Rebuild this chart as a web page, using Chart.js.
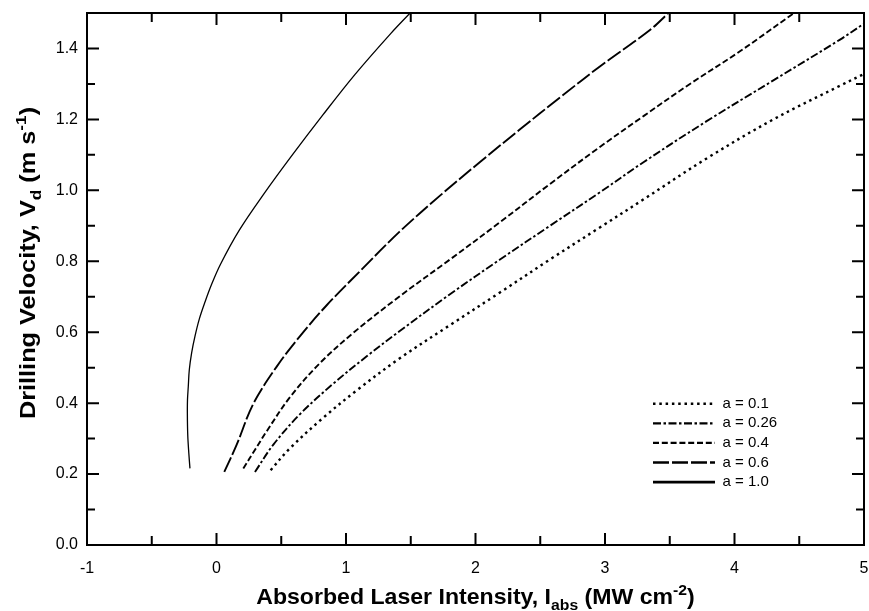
<!DOCTYPE html>
<html>
<head>
<meta charset="utf-8">
<script src="https://cdn.jsdelivr.net/npm/chart.js@4.4.0/dist/chart.umd.min.js"></script>
<style>
html,body{margin:0;padding:0;background:#fff;}
#wrap{width:869px;height:611px;position:relative;}
</style>
</head>
<body>
<div id="wrap"><canvas id="c"></canvas></div>
<script>
// ---- data ----
const seriesLabels = ['a = 0.1', 'a = 0.26', 'a = 0.4', 'a = 0.6', 'a = 1.0'];

const x_a01 = [0.418, 0.568, 0.825, 1.083, 1.410, 1.803, 2.189, 2.575, 2.963, 3.300, 3.785, 4.300, 4.815, 5.000];
const y_a01 = [0.211, 0.273, 0.359, 0.436, 0.525, 0.620, 0.712, 0.805, 0.896, 0.975, 1.090, 1.200, 1.295, 1.328];

const x_a026 = [0.297, 0.439, 0.645, 0.902, 1.160, 1.410, 1.803, 2.189, 2.575, 2.963, 3.300, 3.785, 4.300, 4.815, 5.000];
const y_a026 = [0.206, 0.283, 0.369, 0.455, 0.532, 0.602, 0.707, 0.805, 0.900, 0.995, 1.080, 1.195, 1.310, 1.425, 1.470];

const x_a04 = [0.207, 0.300, 0.388, 0.568, 0.799, 1.056, 1.410, 1.803, 2.189, 2.575, 2.963, 3.300, 3.656, 4.042, 4.460];
const y_a04 = [0.216, 0.270, 0.321, 0.417, 0.513, 0.598, 0.700, 0.805, 0.910, 1.018, 1.123, 1.210, 1.300, 1.392, 1.500];

const x_a06 = [0.060, 0.156, 0.284, 0.465, 0.645, 0.851, 1.108, 1.410, 1.726, 2.035, 2.344, 2.653, 2.963, 3.347, 3.490];
const y_a06 = [0.206, 0.283, 0.398, 0.503, 0.589, 0.676, 0.772, 0.882, 0.985, 1.080, 1.172, 1.262, 1.350, 1.452, 1.500];

const x_a10 = [-0.205, -0.214, -0.222, -0.225, -0.224, -0.218, -0.210, -0.192, -0.166, -0.133, -0.089, -0.040, 0.030, 0.175, 0.370, 0.580, 0.820, 1.070, 1.345, 1.495];
const y_a10 = [0.216, 0.260, 0.310, 0.370, 0.410, 0.446, 0.494, 0.542, 0.589, 0.637, 0.685, 0.733, 0.791, 0.887, 0.992, 1.097, 1.212, 1.327, 1.442, 1.500];

const xTickValues = [-1, 0, 1, 2, 3, 4, 5];
const xTickLabels = ['-1', '0', '1', '2', '3', '4', '5'];
const xMinorValues = [-0.5, 0.5, 1.5, 2.5, 3.5, 4.5];
const yTickValues = [0, 0.2, 0.4, 0.6, 0.8, 1.0, 1.2, 1.4];
const yTickLabels = ['0.0', '0.2', '0.4', '0.6', '0.8', '1.0', '1.2', '1.4'];
const yMinorValues = [0.1, 0.3, 0.5, 0.7, 0.9, 1.1, 1.3];

const xTitleRuns = [['Absorbed Laser Intensity, I', 0], ['abs', -1], [' (MW cm', 0], ['-2', 1], [')', 0]];
const yTitleRuns = [['Drilling Velocity, V', 0], ['d', -1], [' (m s', 0], ['-1', 1], [')', 0]];

// ---- build chart ----
const pts = (xs, ys) => xs.map((x, i) => ({x: x, y: ys[i]}));
const styles = [
  {dash: [2.5, 3.8], width: 2.4, legendWidth: 2.6},
  {dash: [8, 2.5, 2.5, 2.5], width: 1.9, legendWidth: 2.2},
  {dash: [6, 2.8], width: 1.9, legendWidth: 2.2},
  {dash: [16, 3], width: 1.9, legendWidth: 2.4},
  {dash: [], width: 1.3, legendWidth: 2.6}
];
const seriesX = [x_a01, x_a026, x_a04, x_a06, x_a10];
const seriesY = [y_a01, y_a026, y_a04, y_a06, y_a10];

const datasets = seriesLabels.map((lab, i) => ({
  label: lab,
  data: pts(seriesX[i], seriesY[i]),
  borderColor: '#000',
  backgroundColor: '#000',
  borderWidth: styles[i].width,
  borderDash: styles[i].dash,
  pointRadius: 0,
  pointStyle: 'line',
  showLine: true,
  fill: false,
  tension: 0.35
}));

const FONT = "'Liberation Sans', Arial, Helvetica, sans-serif";

function drawRuns(ctx, runs, size, cx, cy, sx) {
  const big = 'bold ' + size + 'px ' + FONT;
  const small = 'bold ' + Math.round(size * 0.68) + 'px ' + FONT;
  let total = 0;
  runs.forEach(r => { ctx.font = r[1] === 0 ? big : small; total += ctx.measureText(r[0]).width; });
  ctx.save();
  ctx.translate(cx, cy);
  ctx.scale(sx, 1);
  let x = -total / 2;
  ctx.textBaseline = 'alphabetic';
  ctx.textAlign = 'left';
  runs.forEach(r => {
    ctx.font = r[1] === 0 ? big : small;
    let dy = 0;
    if (r[1] === -1) dy = size * 0.28;
    if (r[1] === 1) dy = -size * 0.42;
    ctx.fillText(r[0], x, dy);
    x += ctx.measureText(r[0]).width;
  });
  ctx.restore();
}

const framePlugin = {
  id: 'frameTicks',
  afterUpdate(chart) {
    const lg = chart.legend;
    if (lg) {
      lg.left = 648.4; lg.top = 391.6;
      lg.width = 200; lg.height = 200;
      lg.right = lg.left + 200; lg.bottom = lg.top + 200;
    }
  },
  afterDatasetsDraw(chart) {
    const {ctx, chartArea: a, scales} = chart;
    const xs = scales.x, ys = scales.y;
    ctx.save();
    ctx.strokeStyle = '#000';
    ctx.lineWidth = 2;
    ctx.setLineDash([]);
    ctx.strokeRect(a.left, a.top, a.right - a.left, a.bottom - a.top);
    ctx.beginPath();
    const tx = (vals, len) => vals.forEach(v => {
      const p = xs.getPixelForValue(v);
      ctx.moveTo(p, a.bottom); ctx.lineTo(p, a.bottom - len);
      ctx.moveTo(p, a.top); ctx.lineTo(p, a.top + len);
    });
    const ty = (vals, len) => vals.forEach(v => {
      const p = ys.getPixelForValue(v);
      ctx.moveTo(a.left, p); ctx.lineTo(a.left + len, p);
      ctx.moveTo(a.right, p); ctx.lineTo(a.right - len, p);
    });
    tx(xTickValues, 12); tx(xMinorValues, 9);
    ty(yTickValues, 12); ty(yMinorValues, 8);
    ctx.stroke();
    // axis titles
    ctx.fillStyle = '#000';
    drawRuns(ctx, xTitleRuns, 22, (a.left + a.right) / 2, 604, 1.05);
    ctx.save();
    ctx.translate(35, 263);
    ctx.rotate(-Math.PI / 2);
    drawRuns(ctx, yTitleRuns, 22, 0, 0, 1.15);
    ctx.restore();
    ctx.restore();
  }
};

new Chart(document.getElementById('c'), {
  type: 'scatter',
  data: {datasets: datasets},
  plugins: [framePlugin],
  options: {
    responsive: true,
    maintainAspectRatio: false,
    animation: false,
    layout: {padding: {top: 13, right: 5, left: 0, bottom: 0}},
    plugins: {
      tooltip: {enabled: false},
      title: {display: false},
      legend: {
        display: true,
        position: 'chartArea',
        align: 'start',
        labels: {
          usePointStyle: true,
          pointStyleWidth: 62,
          padding: 4.6,
          color: '#000',
          font: {size: 15, family: FONT},
          generateLabels(chart) {
            return chart.data.datasets.map((ds, i) => ({
              text: ds.label,
              fillStyle: '#000',
              strokeStyle: '#000',
              fontColor: '#000',
              lineWidth: styles[i].legendWidth,
              lineDash: ds.borderDash,
              lineCap: 'butt',
              pointStyle: 'line',
              hidden: false,
              datasetIndex: i
            }));
          }
        }
      }
    },
    scales: {
      x: {
        type: 'linear',
        min: -1, max: 5,
        afterFit(s) { s.height = 66; s.paddingLeft = 0; s.paddingRight = 0; },
        afterBuildTicks(s) { s.ticks = xTickValues.map(v => ({value: v})); },
        grid: {display: false, drawTicks: false},
        border: {display: false},
        ticks: {
          autoSkip: false, maxRotation: 0, padding: 14, color: '#000',
          font: {size: 16, family: FONT},
          callback(v, i) { return xTickLabels[i]; }
        }
      },
      y: {
        type: 'linear',
        min: 0, max: 1.5,
        afterFit(s) { s.width = 87; s.paddingTop = 0; s.paddingBottom = 0; },
        afterBuildTicks(s) { s.ticks = yTickValues.map(v => ({value: v})); },
        grid: {display: false, drawTicks: false},
        border: {display: false},
        ticks: {
          autoSkip: false, padding: 9, color: '#000',
          font: {size: 16, family: FONT},
          callback(v, i) { return yTickLabels[i]; }
        }
      }
    }
  }
});
</script>
</body>
</html>
